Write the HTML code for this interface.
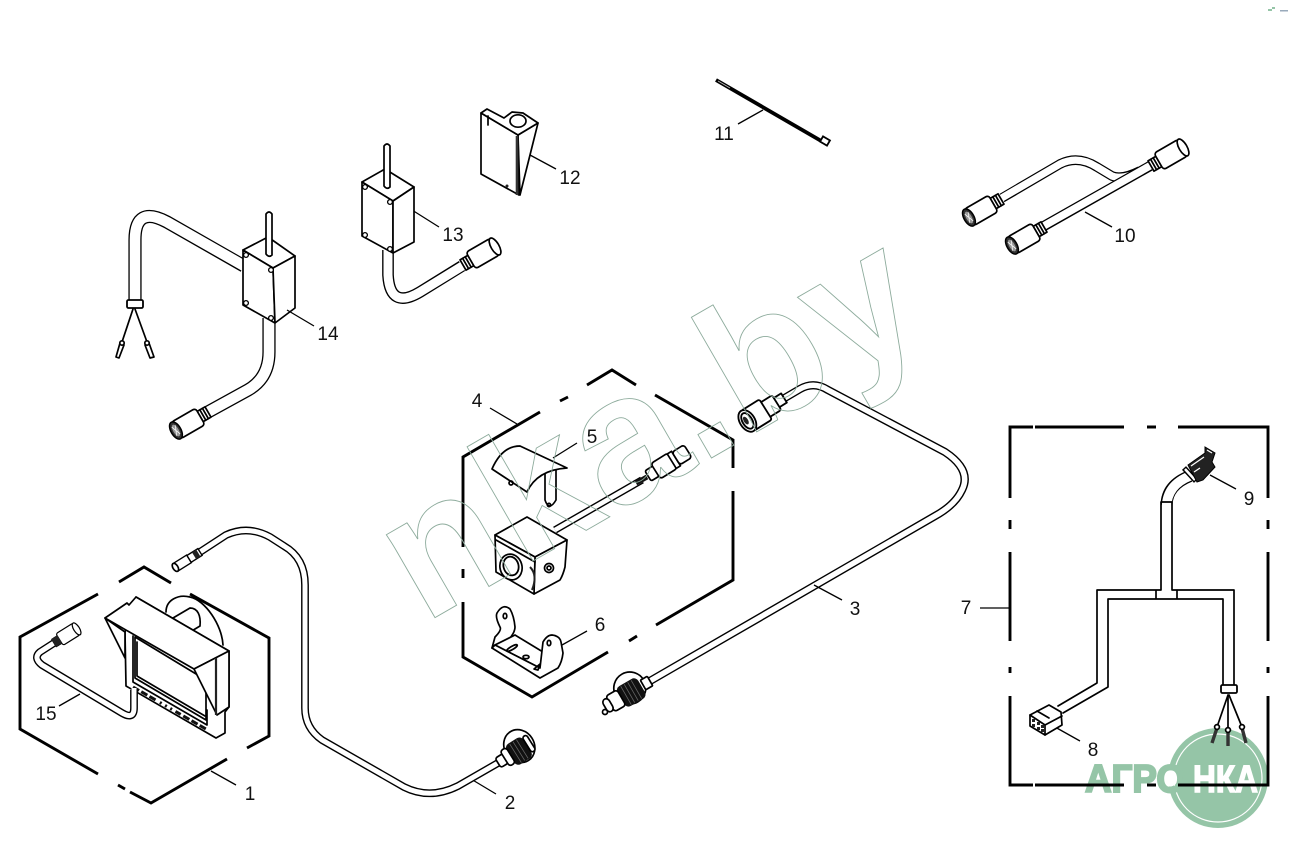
<!DOCTYPE html>
<html><head><meta charset="utf-8"><style>
html,body{margin:0;padding:0;background:#fff}
svg{display:block}
.k{fill:none;stroke:#000;stroke-width:1.7;stroke-linejoin:round;stroke-linecap:round}
.t{fill:none;stroke:#000;stroke-width:1.3}
.h{fill:none;stroke:#000;stroke-width:2.9}
.f{fill:#fff;stroke:#000;stroke-width:1.7;stroke-linejoin:round}
.w{fill:none;stroke:#fff;stroke-linejoin:round}
.b{fill:none;stroke:#000;stroke-linejoin:round}
text.n{font-family:"Liberation Sans",sans-serif;font-size:19px;fill:#111;text-anchor:middle}
</style></head><body>
<svg width="1290" height="849" viewBox="0 0 1290 849" xmlns="http://www.w3.org/2000/svg">
<defs>
<g id="pe">
<rect x="0" y="-6" width="9" height="12" class="f"/><path d="M3 -6V6M6 -6V6" class="k"/>
<rect x="9" y="-9.500" width="28" height="19" rx="3" class="f"/>
<ellipse cx="37" cy="0" rx="4" ry="9.500" class="f"/>
</g>
<g id="pp">
<rect x="0" y="-6" width="9" height="12" class="f"/><path d="M3 -6V6M6 -6V6" class="k"/>
<rect x="9" y="-9.500" width="28" height="19" rx="3" class="f"/>
<ellipse cx="37" cy="0" rx="5" ry="9.500" fill="#333" stroke="#000" stroke-width="1.500"/>
<ellipse cx="37" cy="0" rx="2.800" ry="6.500" fill="#999"/>
<path d="M35 -5L39 5M39 -5L35 5" stroke="#fff" stroke-width=".7"/>
</g>
<g id="sc"><circle r="2.400" fill="#fff" stroke="#000" stroke-width="1.300"/></g>
</defs>

<!-- logo -->
<circle cx="1218" cy="778" r="50" fill="#95c5a7"/>
<circle cx="1218" cy="778" r="44" fill="none" stroke="#fff" stroke-width="1.200"/>
<ellipse cx="1170" cy="778" rx="8" ry="8.500" fill="#fff"/>
<text x="1085" y="792" font-family="Liberation Sans,sans-serif" font-weight="bold" font-size="39" fill="#95c5a7" stroke="#95c5a7" stroke-width="2" textLength="100" lengthAdjust="spacingAndGlyphs">АГРО</text>
<text x="1193" y="792" font-family="Liberation Sans,sans-serif" font-weight="bold" font-size="38" fill="#fff" stroke="#fff" stroke-width="1.500" textLength="65" lengthAdjust="spacingAndGlyphs">НКА</text>

<!-- tiny marks -->
<rect x="1268" y="9" width="4" height="2" fill="#95c5a7"/><rect x="1272" y="7" width="3" height="2" fill="#95c5a7"/><rect x="1280" y="10" width="8" height="1.500" fill="#9ab"/>

<!-- box 1 -->
<path class="h" d="M98 594L20 637V729L98 774M118 785L125 789M130 792L151 803L227 759M247 748L269 736V638L190 594M171 583L144 567L119 582"/>

<!-- monitor -->
<path class="k" d="M166 612C166 600 178 594 190 597C205 600 222 625 223 645"/>
<path class="f" d="M173 618L190 608C198 608 201 616 200 626L190 632Z"/>
<path class="f" d="M125 632L126 686L216 738L225 733V712L229 707V651L136 597Z"/>
<path class="k" d="M133 636V682L207 725V710"/>
<path class="f" d="M135 637V678L206 720V680Z"/>
<path class="k" d="M137 642V676L205 716"/>
<path d="M133 687L206 729" stroke="#111" stroke-width="3" stroke-dasharray="7 2.500 7 2.500 7 5 2 4 2 4 2 4 6 3" fill="none"/>
<path class="f" d="M105 618L125 658V632Z"/>
<path class="f" d="M105 618L127 603L129 605L136 597L229 651L194 669Z"/>
<path class="f" d="M194 669L217 715L229 707V651Z"/>
<path d="M216 658V715" stroke="#222" stroke-width="2.200"/>

<!-- cable 15 -->
<path class="b" stroke-width="7.800" d="M54 643L40 652Q33 658 42 665L122 713Q134 720 134 708V690"/>
<path class="w" stroke-width="5" d="M54 643L40 652Q33 658 42 665L122 713Q134 720 134 708V688"/>
<use href="#pe" transform="translate(54,643) rotate(-32) scale(.72)"/>
<rect x="53" y="637" width="7" height="9" fill="#222" transform="rotate(-32 56 641)"/>
<path class="t" d="M59 706L80 694M211 771L236 785M471 779L496 794"/>

<!-- cable 2 -->
<path class="b" stroke-width="7.800" d="M200 552L226 535Q248 525 270 537L284 546Q305 558 305 585L305 708Q305 728 322 740L404 787Q430 800 458 786L498 763"/>
<path class="w" stroke-width="5" d="M200 552L226 535Q248 525 270 537L284 546Q305 558 305 585L305 708Q305 728 322 740L404 787Q430 800 458 786L498 763"/>
<g transform="translate(200,552) rotate(148)">
<rect x="0" y="-4" width="13" height="8" fill="#fff" stroke="#000" stroke-width="1.400"/><rect x="2" y="-4" width="5" height="8" fill="#222"/>
<rect x="13" y="-4.500" width="16" height="9" fill="#fff" stroke="#000" stroke-width="1.400"/><ellipse cx="29" cy="0" rx="2.500" ry="4.500" class="f"/>
</g>
<!-- connector 2 -->
<g transform="translate(498,763) rotate(-32)">
<ellipse cx="27" cy="-3" rx="15" ry="17" class="f" stroke-width="2.200"/>
<rect x="14" y="-11" width="20" height="24" rx="5" fill="#111"/>
<path d="M20 -10V12M24 -10V12M28 -10V12" stroke="#666" stroke-width=".8"/>
<rect x="34" y="-9" width="5" height="18" rx="2.500" class="f"/>
<rect x="0" y="-5.500" width="9" height="11" rx="2.500" class="f"/>
<rect x="8" y="-9" width="7" height="18" rx="3" class="f"/>
</g>

<!-- box 4 -->
<path class="h" d="M540 412L463 457V547M463 569V578M463 602V657L532 697L608 652M629 641L637 636M656 625L733 580V491M733 468V440L655 395M636 385L612 370L587 385M568 397L560 401"/>

<!-- 5 cap -->
<path class="k" d="M545 473V500Q549 512 556 500V468"/><circle cx="549" cy="505" r="1.600" class="k"/>
<path class="f" d="M492 469Q502 446 520 446L567 468Q537 470 527 492Z"/>
<circle cx="511" cy="483" r="2" class="k"/>
<path class="t" d="M553 458L577 443M490 408L517 424M562 645L587 631"/>

<!-- camera cable -->
<path class="b" stroke-width="7.400" d="M555 530L642 480"/><path class="w" stroke-width="4.600" d="M555 530L642 480"/>
<path d="M636 483L647 477" stroke="#111" stroke-width="5"/>
<g transform="translate(648,476) rotate(-32)">
<rect x="0" y="-6" width="10" height="12" rx="2" class="f"/>
<rect x="9" y="-9" width="20" height="18" rx="3" class="f"/>
<rect x="28" y="-8.500" width="5" height="17" class="f"/>
<rect x="33" y="-7.500" width="14" height="15" rx="3" class="f"/>
</g>

<!-- camera -->
<path class="f" d="M495 535L527 517L567 540L535 557Z"/>
<path class="f" d="M535 557L567 540L565 567Q563 575 560 580L534 594Z"/>
<path class="f" d="M495 535L535 557L534 594L496 572Z"/>
<path class="k" d="M496 540L535 562"/>
<ellipse cx="511" cy="567" rx="11" ry="13" class="f" transform="rotate(-15 511 567)"/>
<ellipse cx="511" cy="566" rx="7.500" ry="9.500" fill="#fff" stroke="#000" stroke-width="1.800" transform="rotate(-15 511 566)"/>
<path d="M530 567Q538 575 532 590" stroke="#222" stroke-width="2" fill="none"/>
<circle cx="549" cy="568" r="4.500" class="f"/><circle cx="549" cy="568" r="2" class="k"/>

<!-- bracket 6 -->
<path class="f" d="M492 648L495 637Q502 630 500 627Q495 617 497 613Q503 603 510 609Q514 616 515 627Q515 632 510 638L495 645Z"/>
<path class="f" d="M495 645L515 635L543 652L540 668Z"/>
<path class="f" d="M492 648L495 645L540 668L543 642Q547 635 552 635Q560 636 561 642L563 653Q562 662 558 668L540 678Z"/>
<ellipse cx="505" cy="616" rx="1.800" ry="2.600" class="k"/><ellipse cx="549" cy="643" rx="1.800" ry="2.600" class="k"/>
<ellipse cx="512" cy="648" rx="6" ry="1.600" class="k" transform="rotate(-30 512 648)"/>
<ellipse cx="526" cy="657" rx="3" ry="1.700" class="k"/>
<path class="k" d="M534 669L540 664L538 670Z"/>

<!-- cable 3 -->
<path class="b" stroke-width="8.200" d="M783 399L800 389Q814 381 828 390L945 452Q972 470 962 490Q955 505 935 516L650 681"/>
<path class="w" stroke-width="5.400" d="M783 399L800 389Q814 381 828 390L945 452Q972 470 962 490Q955 505 935 516L650 681"/>
<g transform="translate(784,398) rotate(148) scale(1.080)">
<rect x="0" y="-5" width="9" height="10" class="f"/>
<rect x="8" y="-8" width="14" height="16" rx="2" class="f"/>
<rect x="20" y="-11" width="20" height="22" rx="2" class="f"/>
<ellipse cx="40" cy="0" rx="7" ry="11" class="f"/><ellipse cx="40" cy="0" rx="4.500" ry="8" class="f"/><ellipse cx="41" cy="1" rx="2" ry="4" fill="#222"/>
</g>
<!-- connector 3 -->
<g transform="translate(650,681) rotate(150)">
<ellipse cx="21" cy="4" rx="16" ry="16" class="f" stroke-width="2.200"/>
<rect x="10" y="-12" width="24" height="23" rx="5" fill="#111"/>
<path d="M16 -11V10M20 -11V10M24 -11V10M28 -11V10" stroke="#666" stroke-width=".8"/>
<rect x="0" y="-5.500" width="8" height="11" rx="1" class="f"/>
<rect x="33" y="-9" width="13" height="18" rx="3" class="f"/>
<rect x="45" y="-7" width="7" height="14" rx="4" class="f"/>
</g>
<circle cx="605" cy="712" r="2.500" class="k"/>
<path class="t" d="M814 585L842 600"/>

<!-- item 14 -->
<path class="b" stroke-width="13.200" d="M244 266L167 222Q135 205 135 240V301"/>
<path class="w" stroke-width="10.600" d="M246 267L167 222Q135 205 135 240V302"/>
<rect x="127" y="300" width="16" height="8" rx="1.500" fill="#fff" stroke="#000" stroke-width="1.800"/>
<path class="k" d="M133 309L122 342M135 309L147 342"/>
<path class="k" d="M120 343L124 345L119 358L116 357ZM145 345L149 343L154 357L150 358Z"/>
<circle cx="122" cy="343" r="2.200" class="f"/><circle cx="147" cy="343" r="2.200" class="f"/>
<path class="b" stroke-width="13.200" d="M269 318V352Q269 378 248 390L208 412"/>
<path class="w" stroke-width="10.600" d="M269 318V352Q269 378 248 390L208 412"/>
<use href="#pp" transform="translate(208,412) rotate(150)"/>
<path class="f" d="M243 250L268 237L295 256L273 268Z"/>
<path class="f" d="M243 250L273 268L275 323L243 305Z"/>
<path class="f" d="M273 268L295 256V308L275 323Z"/>
<path d="M266 254V214Q269 210 272 214V255Q269 258 266 254Z" class="f"/>
<use href="#sc" x="246" y="255"/><use href="#sc" x="271" y="270"/><use href="#sc" x="246" y="303"/><use href="#sc" x="271" y="318"/>
<path class="t" d="M287 310L314 326M412 210L439 227"/>

<!-- item 13 -->
<path class="b" stroke-width="11.700" d="M388 250V275Q390 310 420 292L462 266"/>
<path class="w" stroke-width="9" d="M388 250V275Q390 310 420 292L464 265"/>
<use href="#pe" transform="translate(463,265) rotate(-30)"/>
<path class="f" d="M362 182L385 169L414 187L393 201Z"/>
<path class="f" d="M362 182L393 201V253L362 236Z"/>
<path class="f" d="M393 201L414 187V242L393 253Z"/>
<path d="M384 186V146Q387 142 390 146V187Q387 190 384 186Z" class="f"/>
<use href="#sc" x="365" y="187"/><use href="#sc" x="390" y="202"/><use href="#sc" x="365" y="235"/><use href="#sc" x="390" y="249"/>

<!-- item 12 -->
<path class="f" d="M518 135L538 123L520 195Z"/>
<path class="f" d="M481 113L518 135L519 195L481 174Z"/>
<path class="f" d="M481 113L487 109L504 118L512 112L523 113L538 123L518 135Z"/>
<ellipse cx="518" cy="121" rx="8" ry="6.200" class="f"/>
<path class="k" d="M488 116V125"/><path d="M517 136V195" stroke="#333" stroke-width="2.600"/><circle cx="507" cy="186" r="1.500" fill="#222"/>
<path class="t" d="M530 155L556 169"/>

<!-- item 11 -->
<path d="M716 80L823 142" stroke="#000" stroke-width="3.800"/><path d="M718 81L730 88" stroke="#bbb" stroke-width=".8"/>
<rect x="821" y="138" width="8" height="6" fill="#fff" stroke="#000" stroke-width="1.800" transform="rotate(30 825 141)"/>
<path class="t" d="M763 110L738 124"/>

<!-- item 10 -->
<path class="b" stroke-width="9.700" d="M1002 198L1060 164Q1078 155 1097 167L1112 176Q1122 180 1140 171"/>
<path class="w" stroke-width="7.200" d="M1000 199L1060 164Q1078 155 1097 167L1112 176Q1122 180 1145 170"/>
<path class="b" stroke-width="10.200" d="M1044 226L1150 166"/>
<path class="w" stroke-width="7.600" d="M1042 227L1155 163"/>
<use href="#pp" transform="translate(1001,199) rotate(150)"/>
<use href="#pp" transform="translate(1044,227) rotate(150)"/>
<use href="#pe" transform="translate(1151,166) rotate(-30)"/>
<path class="t" d="M1085 212L1112 227"/>

<!-- panel 7 -->
<path class="h" d="M1010 498V427H1033M1035 427H1124M1147 427H1156M1178 427H1268V498M1268 520V529M1268 552V641M1268 667V673M1268 696V785H1178M1156 785H1147M1124 785H1035M1033 785H1010V696M1010 673V667M1010 641V552M1010 529V520"/>
<path class="t" d="M980 608H1010"/>

<!-- harness -->
<path class="b" stroke-width="12" d="M1166.500 505Q1167 485 1190 476"/>
<path class="w" stroke-width="9.500" d="M1166.500 507Q1167 485 1190 476"/>
<path class="k" d="M1161 502V590H1097V683L1058 706M1172 502V590H1234V685M1108 599V687L1063 713M1108 599H1223V685M1156 590V599M1177 590V599M1161 502H1172"/>
<path d="M1184 468L1196 481" stroke="#000" stroke-width="5.500"/><path d="M1185 469L1195 480" stroke="#fff" stroke-width="2.500"/>
<path d="M1188 465L1205 453L1205 447L1215 453L1212 462L1215 467L1203 480L1197 482Z" fill="#222" stroke="#000"/>
<path d="M1191 466L1204 457M1207 450L1212 453M1194 472L1200 468" stroke="#fff" stroke-width="1.300"/>
<path class="t" d="M1210 475L1236 489M1055 727L1080 741"/>
<!-- connector 8 -->
<path class="f" d="M1030 715L1049 705L1061 712L1062 725L1045 735L1030 726Z"/>
<path class="k" d="M1030 715L1045 725V735M1045 725L1062 716M1037 711L1049 718"/>
<path d="M1032 719h3v3h-3zM1037 722h3v3h-3zM1041 725h3v3h-3zM1032 724h3v3h-3zM1037 727h3v3h-3zM1041 729h3v3h-3z" fill="#222"/>
<!-- sleeve + wires -->
<rect x="1221" y="685" width="16" height="8" rx="1.500" fill="#fff" stroke="#000" stroke-width="1.800"/>
<path class="k" d="M1228 695L1217 727M1228 695V728M1229 695L1242 727"/>
<path d="M1217 728L1212 743M1228 729V746M1242 728L1246 743" stroke="#333" stroke-width="3.400"/>
<circle cx="1217" cy="727" r="2.400" class="f"/><circle cx="1228" cy="730" r="2.400" class="f"/><circle cx="1242" cy="727" r="2.400" class="f"/>

<!-- labels -->
<text class="n" x="250" y="800">1</text>
<text class="n" x="510" y="809">2</text>
<text class="n" x="855" y="615">3</text>
<text class="n" x="477" y="407">4</text>
<text class="n" x="592" y="443">5</text>
<text class="n" x="600" y="631">6</text>
<text class="n" x="966" y="614">7</text>
<text class="n" x="1093" y="756">8</text>
<text class="n" x="1249" y="505">9</text>
<text class="n" x="1125" y="242">10</text>
<text class="n" x="724" y="140">11</text>
<text class="n" x="570" y="184">12</text>
<text class="n" x="453" y="241">13</text>
<text class="n" x="328" y="340">14</text>
<text class="n" x="46" y="720">15</text>

<!-- watermark -->
<text transform="translate(424,624) rotate(-30)" font-family="Liberation Sans,sans-serif" font-weight="bold" font-size="182" letter-spacing="2" fill="none" stroke="#8dab9c" stroke-width=".9">nka.by</text>
</svg>
</body></html>
